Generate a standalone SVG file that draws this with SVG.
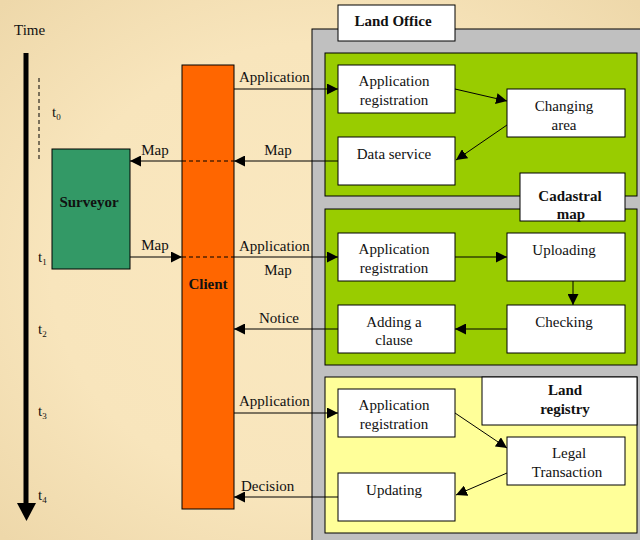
<svg xmlns="http://www.w3.org/2000/svg" width="640" height="540" viewBox="0 0 640 540">
<defs>
<radialGradient id="bg" cx="50%" cy="50%" r="70%">
<stop offset="0" stop-color="#FAE8C0"/>
<stop offset="0.6" stop-color="#F8E5BC"/>
<stop offset="1" stop-color="#EED8AA"/>
</radialGradient>
<marker id="ah" viewBox="0 0 10 10" refX="10" refY="5" markerWidth="11" markerHeight="11" markerUnits="userSpaceOnUse" orient="auto">
<path d="M0,0 L10,5 L0,10 z" fill="#000"/>
</marker>
</defs>
<style>
text{font-family:"Liberation Serif","Times New Roman",serif;font-size:15px;fill:#111}
.b{font-weight:bold}
.c{text-anchor:middle}
.box{fill:#fff;stroke:#000;stroke-width:1}
.ln{stroke:#000;stroke-width:1;fill:none}
.arr{stroke:#000;stroke-width:1;fill:none;marker-end:url(#ah)}
.dash{stroke:#000;stroke-width:1;stroke-dasharray:4,3;fill:none}
</style>
<rect x="0" y="0" width="640" height="540" fill="url(#bg)"/>

<g id="timeline">
<text x="14" y="35">Time</text>
<line x1="26" y1="53" x2="26" y2="506" stroke="#000" stroke-width="5"/>
<path d="M17,503 L36,503 L26.5,521 z" fill="#000"/>
<line x1="39" y1="78" x2="39" y2="161" class="dash" stroke-dasharray="3,3"/>
<text x="52" y="117">t<tspan font-size="9" dy="3">0</tspan></text>
<text x="38" y="262">t<tspan font-size="9" dy="3">1</tspan></text>
<text x="38" y="334">t<tspan font-size="9" dy="3">2</tspan></text>
<text x="38" y="416">t<tspan font-size="9" dy="3">3</tspan></text>
<text x="38" y="500">t<tspan font-size="9" dy="3">4</tspan></text>
</g>

<g id="land-office">
<rect x="312" y="29" width="340" height="520" fill="#C0C0C0" stroke="#000"/>
<rect x="338" y="5" width="117" height="36" class="box"/>
<text x="393" y="26" class="b c">Land Office</text>
</g>

<g id="panel-changing">
<rect x="325" y="53" width="312" height="143" fill="#99CC00" stroke="#000"/>
</g>
<g id="panel-cadastral">
<rect x="325" y="209" width="312" height="156" fill="#99CC00" stroke="#000"/>
</g>
<g id="panel-registry">
<rect x="325" y="377" width="312" height="156" fill="#FFFF99" stroke="#000"/>
</g>

<g id="cadastral-label">
<rect x="520" y="173" width="105" height="48" class="box"/>
<text x="570" y="201" class="b c">Cadastral</text>
<text x="571" y="219" class="b c">map</text>
</g>
<g id="registry-label">
<rect x="482" y="377" width="155" height="48" class="box"/>
<text x="565" y="395" class="b c">Land</text>
<text x="565" y="414" class="b c">registry</text>
</g>

<g id="app-reg-1">
<rect x="338" y="65" width="117" height="48" class="box"/>
<text x="394" y="86" class="c">Application</text>
<text x="394" y="105" class="c">registration</text>
</g>
<g id="changing-area">
<rect x="507" y="89" width="118" height="48" class="box"/>
<text x="564" y="111" class="c">Changing</text>
<text x="564" y="130" class="c">area</text>
</g>
<g id="data-service">
<rect x="338" y="137" width="117" height="48" class="box"/>
<text x="394" y="159" class="c">Data service</text>
</g>

<g id="app-reg-2">
<rect x="338" y="233" width="117" height="48" class="box"/>
<text x="394" y="254" class="c">Application</text>
<text x="394" y="273" class="c">registration</text>
</g>
<g id="uploading">
<rect x="507" y="233" width="118" height="48" class="box"/>
<text x="564" y="255" class="c">Uploading</text>
</g>
<g id="adding-clause">
<rect x="338" y="305" width="117" height="48" class="box"/>
<text x="394" y="327" class="c">Adding a</text>
<text x="394" y="345" class="c">clause</text>
</g>
<g id="checking">
<rect x="507" y="305" width="118" height="48" class="box"/>
<text x="564" y="327" class="c">Checking</text>
</g>

<g id="app-reg-3">
<rect x="338" y="389" width="117" height="48" class="box"/>
<text x="394" y="410" class="c">Application</text>
<text x="394" y="429" class="c">registration</text>
</g>
<g id="legal-transaction">
<rect x="507" y="437" width="118" height="48" class="box"/>
<text x="569" y="458" class="c">Legal</text>
<text x="567" y="477" class="c">Transaction</text>
</g>
<g id="updating">
<rect x="338" y="473" width="117" height="48" class="box"/>
<text x="394" y="495" class="c">Updating</text>
</g>

<g id="client">
<rect x="182" y="65" width="52" height="444" fill="#FF6600" stroke="#000"/>
<text x="208" y="289" class="b c">Client</text>
</g>
<g id="surveyor">
<rect x="52" y="149" width="78" height="120" fill="#339966" stroke="#000"/>
<text x="89" y="207" class="b c">Surveyor</text>
</g>

<g id="connectors">
<line x1="234" y1="89" x2="338" y2="89" class="arr"/>
<text x="239" y="82">Application</text>
<line x1="338" y1="161" x2="234" y2="161" class="arr"/>
<text x="278" y="155" class="c">Map</text>
<line x1="182" y1="161" x2="234" y2="161" class="dash"/>
<line x1="182" y1="161" x2="130" y2="161" class="arr"/>
<text x="155" y="155" class="c">Map</text>
<line x1="455" y1="89" x2="507" y2="101" class="arr"/>
<line x1="507" y1="125" x2="456" y2="160" class="arr"/>

<line x1="130" y1="257" x2="182" y2="257" class="arr"/>
<text x="155" y="250" class="c">Map</text>
<line x1="182" y1="257" x2="234" y2="257" class="dash"/>
<line x1="234" y1="257" x2="338" y2="257" class="arr"/>
<text x="239" y="251">Application</text>
<text x="278" y="275" class="c">Map</text>
<line x1="455" y1="257" x2="507" y2="257" class="arr"/>
<line x1="573" y1="281" x2="573" y2="305" class="arr"/>
<line x1="507" y1="329" x2="455" y2="329" class="arr"/>
<line x1="338" y1="329" x2="234" y2="329" class="arr"/>
<text x="279" y="323" class="c">Notice</text>

<line x1="234" y1="413" x2="338" y2="413" class="arr"/>
<text x="239" y="406">Application</text>
<line x1="455" y1="413" x2="507" y2="448" class="arr"/>
<line x1="507" y1="473" x2="456" y2="495" class="arr"/>
<line x1="338" y1="497" x2="234" y2="497" class="arr"/>
<text x="241" y="491">Decision</text>
</g>
</svg>
